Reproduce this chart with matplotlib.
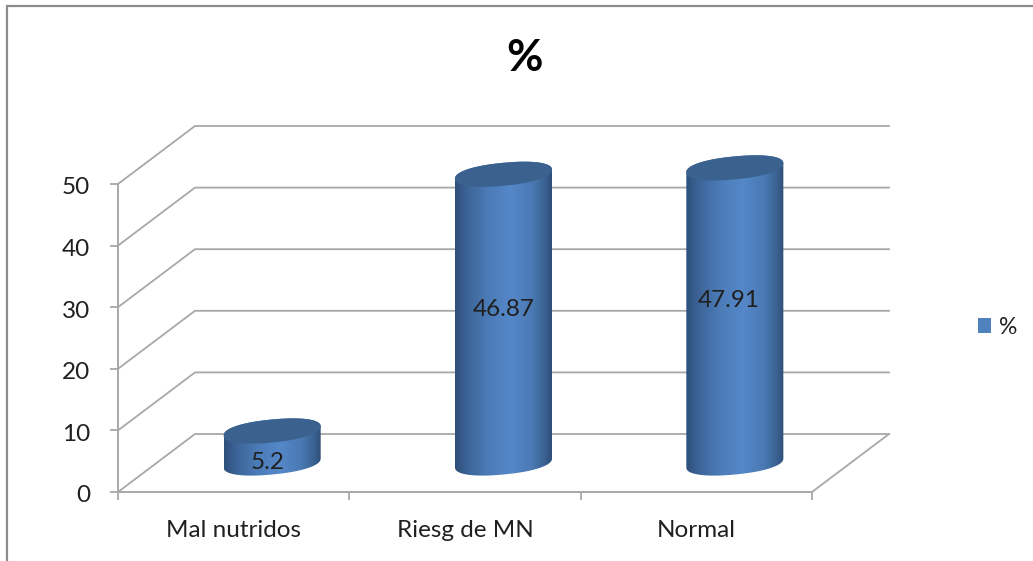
import numpy as np
import matplotlib
matplotlib.use("Agg")
import matplotlib.pyplot as plt
from matplotlib.colors import LinearSegmentedColormap
from matplotlib.lines import Line2D
from matplotlib.patches import Patch, Polygon
from matplotlib.transforms import ScaledTranslation

categories = ["Mal nutridos", "Riesg de MN", "Normal"]
values = [5.2, 46.87, 47.91]
value_labels = ["5.2", "46.87", "47.91"]
y_ticks = [0, 10, 20, 30, 40, 50]
series_name = "%"

W, H = 1033, 561
LEFT, RIGHT, TOP, BOTTOM = 118, 812, 184, 492
plt.rcParams["font.family"] = ["Lato", "DejaVu Sans"]

fig = plt.figure(figsize=(W / 100, H / 100), dpi=100, facecolor="white")
ax = fig.add_axes([LEFT / W, 1 - BOTTOM / H, (RIGHT - LEFT) / W, (BOTTOM - TOP) / H])
ax.set_xlim(0, 3)
ax.set_ylim(0, 50)
ax.patch.set_alpha(0)

GREY = "#a8a8a8"
INK = "#202020"
px_x = 3 / (RIGHT - LEFT)       # one screen pixel in x units
px_y = 50 / (BOTTOM - TOP)      # one screen pixel in y units
DEPTH_X = 77 * px_x             # oblique shift of the back wall
DEPTH_Y = 58 * px_y


def oblique(x, y, depth=0.0):
    return x + depth * DEPTH_X, y + depth * DEPTH_Y


# back wall gridlines with their receding side segments
for y in y_ticks:
    xs, ys = zip(oblique(0, y), oblique(0, y, 1), oblique(3, y, 1))
    ax.plot(xs, ys, color=GREY, lw=1.3, clip_on=False, zorder=1, solid_joinstyle="miter")
xs, ys = zip(oblique(3, 0, 1), oblique(3, 0))
ax.plot(xs, ys, color=GREY, lw=1.3, clip_on=False, zorder=1)

# cylinders: gradient body clipped to the outline, darker flat cap on top
body_cmap = LinearSegmentedColormap.from_list(
    "body",
    [(0, "#2d4f7a"), (0.12, "#3c6396"), (0.35, "#4c7cb8"), (0.58, "#5588c9"),
     (0.8, "#4a79b3"), (0.93, "#3a6191"), (1, "#2e4f78")],
)
RX = 48.5 * px_x
RY = 11.5 * px_y
SHEAR = 4.5 * px_y
ROUNDNESS = 0.9                 # below 1 gives the blunt ends of the caps
t = np.linspace(0, 2 * np.pi, 180)


def ring(cx, cy, angle):
    c = np.sign(np.cos(angle)) * np.abs(np.cos(angle)) ** ROUNDNESS
    s = np.sign(np.sin(angle)) * np.abs(np.sin(angle)) ** ROUNDNESS
    return cx + RX * c, cy + RY * s + SHEAR * c


label_heights = [0.3, 25.0, 26.6]
label_shifts = [-5, 0, -6]
for i, (value, text, label_y, shift) in enumerate(
        zip(values, value_labels, label_heights, label_shifts)):
    cx, base = oblique(i + 0.5, 0, 0.5)
    top = base + value
    lower = np.linspace(np.pi, 2 * np.pi, 90)
    upper = np.linspace(0, np.pi, 90)
    outline = np.vstack([np.column_stack(ring(cx, base, lower)),
                         np.column_stack(ring(cx, top, upper))])
    clip = Polygon(outline, closed=True, transform=ax.transData, fc="none", ec="none")
    ax.add_patch(clip)
    image = ax.imshow(np.linspace(0, 1, 256)[None, :], cmap=body_cmap, aspect="auto",
                      extent=(cx - RX, cx + RX, base - 2 * RY, top + 2 * RY), zorder=3)
    image.set_clip_box(fig.bbox)
    image.set_clip_path(clip)
    cap_x, cap_y = ring(cx, top, t)
    ax.fill(cap_x, cap_y, color="#3b628f", lw=0, clip_on=False, zorder=4)
    lx, ly = oblique(i + 0.5, label_y, 0.5)
    ax.text(lx + shift * px_x, ly - px_y, text, ha="center", va="center",
            fontsize=17.5, color=INK, zorder=5)

ax.set_xlim(0, 3)
ax.set_ylim(0, 50)

# axes, ticks and labels
for side in ("top", "right"):
    ax.spines[side].set_visible(False)
for side in ("left", "bottom"):
    ax.spines[side].set_color(GREY)
    ax.spines[side].set_linewidth(1.4)
ax.set_yticks(y_ticks)
ax.set_xticks(range(4))
ax.set_xticklabels([])
ax.set_xticks([0.5, 1.5, 2.5], minor=True)
ax.set_xticklabels(categories, minor=True)
ax.tick_params(axis="x", which="major", length=6, width=1.3, color=GREY)
ax.tick_params(axis="x", which="minor", length=0, pad=20, labelsize=17.5, labelcolor=INK)
ax.tick_params(axis="y", length=6, width=1.3, color=GREY, pad=14, labelsize=17.5, labelcolor=INK)

# the value labels sit a touch below their tick marks
nudge = ScaledTranslation(0, -2 / 100, fig.dpi_scale_trans)
for label in ax.get_yticklabels():
    label.set_transform(label.get_transform() + nudge)

fig.text(524 / W, 1 - 58 / H, series_name, ha="center", va="center",
         fontsize=32, fontweight="bold", color="black")

legend = fig.legend(
    handles=[Patch(facecolor="#4f81bd", edgecolor="none", label=series_name)],
    loc="center left", bbox_to_anchor=(973 / W, 1 - 327 / H), frameon=False,
    fontsize=16.5, handlelength=0.6, handleheight=0.6, handletextpad=0.33,
    labelcolor=INK, borderpad=0.2, borderaxespad=0,
)

# outer chart frame, open at the right and at the bottom
fig.add_artist(Line2D([7 / W, 7 / W, 1], [0, 1 - 6 / H, 1 - 6 / H],
                      transform=fig.transFigure, color="#8c8c8c", lw=1.6,
                      solid_joinstyle="miter"))

fig.savefig("out.png", dpi=100, facecolor="white")
